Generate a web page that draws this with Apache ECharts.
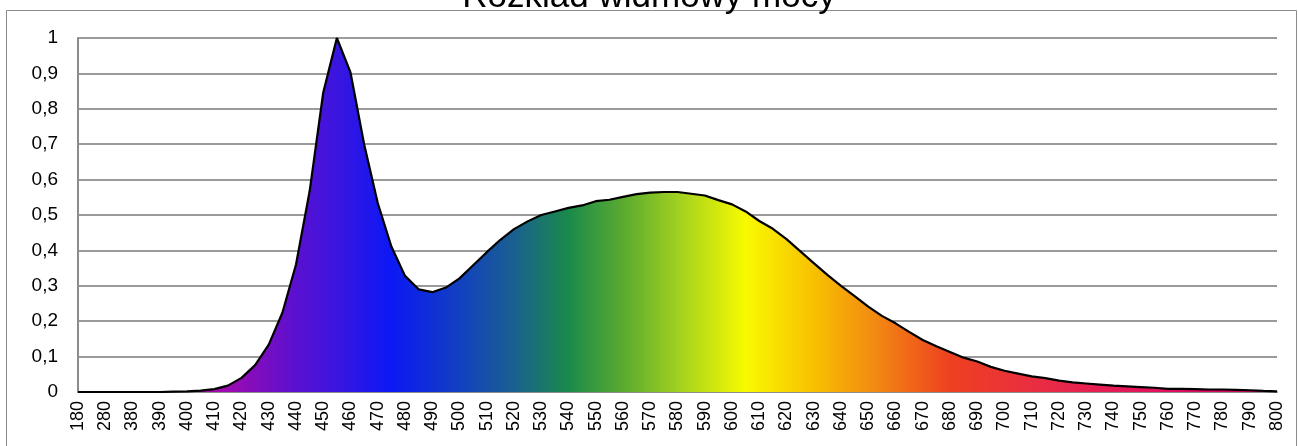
<!DOCTYPE html>
<html>
<head>
<meta charset="utf-8">
<script src="https://cdn.jsdelivr.net/npm/echarts@6/dist/echarts.min.js"></script>
<style>
  html, body { margin: 0; padding: 0; background: #fff; }
  #chart { width: 1298px; height: 446px; }
</style>
</head>
<body>
<div id="chart"></div>
<script>
// długości fal [nm]
const wavelengths = [180, 230, 280, 330,
  380, 385, 390, 395, 400, 405, 410, 415, 420, 425, 430, 435, 440, 445, 450, 455,
  460, 465, 470, 475, 480, 485, 490, 495, 500, 505, 510, 515, 520, 525, 530, 535,
  540, 545, 550, 555, 560, 565, 570, 575, 580, 585, 590, 595, 600, 605, 610, 615,
  620, 625, 630, 635, 640, 645, 650, 655, 660, 665, 670, 675, 680, 685, 690, 695,
  700, 705, 710, 715, 720, 725, 730, 735, 740, 745, 750, 755, 760, 765, 770, 775,
  780, 785, 790, 795, 800]

// moc względna
const power = [0, 0, 0, 0,
  0, 0, 0, 0.001, 0.002, 0.004, 0.008, 0.018, 0.04, 0.076, 0.134, 0.224, 0.36, 0.567, 0.846, 1.0,
  0.903, 0.70, 0.534, 0.411, 0.328, 0.29, 0.282, 0.295, 0.321, 0.358, 0.395, 0.43, 0.46, 0.482, 0.50, 0.51,
  0.52, 0.527, 0.539, 0.543, 0.551, 0.559, 0.563, 0.565, 0.565, 0.56, 0.555, 0.542, 0.53, 0.51, 0.483, 0.461,
  0.432, 0.398, 0.364, 0.331, 0.30, 0.271, 0.241, 0.215, 0.194, 0.17, 0.147, 0.129, 0.113, 0.097, 0.086, 0.071,
  0.06, 0.052, 0.044, 0.039, 0.032, 0.027, 0.024, 0.021, 0.018, 0.016, 0.014, 0.012, 0.009, 0.009, 0.008, 0.007,
  0.007, 0.006, 0.005, 0.003, 0.002]

// kolory widma (długość fali -> kolor)
const spectrumNm = [400, 415, 440, 455, 475, 500, 520, 540, 560, 580, 605, 630, 650, 680, 720, 760, 800]
const spectrumColors = ['#b000a0', '#9b0bb0', '#5a10d0', '#3a15e0', '#0c18f5', '#1240c0', '#1a6090', '#1a8a4a',
  '#5aaa30', '#a0d020', '#f8fa00', '#f8c000', '#f39010', '#ee4020', '#e8284a', '#e01060', '#d00060']

const chart = echarts.init(document.getElementById('chart'))

// gradient liczony po indeksach kategorii
const lastIdx = wavelengths.length - 1
const stops = spectrumNm.map(function (nm, k) {
  let idx = wavelengths.indexOf(nm)
  return { offset: idx / lastIdx, color: spectrumColors[k] }
})

const font = 'Liberation Sans'

const option = {
  animation: false,
  backgroundColor: '#fff',
  title: {
    text: 'Rozkład widmowy mocy',
    left: 'center',
    top: -25,
    textStyle: { fontFamily: font, fontSize: 35, fontWeight: 'normal', color: '#000' }
  },
  graphic: [{
    type: 'rect',
    shape: { x: 6.5, y: 10.5, width: 1290, height: 450 },
    style: { fill: null, stroke: '#8c8c8c', lineWidth: 1 },
    silent: true,
    z: -1
  }],
  grid: { left: 78, right: 21, top: 38, bottom: 54 },
  xAxis: {
    type: 'category',
    boundaryGap: false,
    data: wavelengths,
    axisLine: { lineStyle: { color: '#8c8c8c', width: 2 } },
    axisTick: { show: false },
    axisLabel: {
      interval: 1,
      rotate: 90,
      margin: 9,
      fontFamily: font,
      fontSize: 18,
      color: '#000'
    },
    splitLine: { show: false }
  },
  yAxis: {
    type: 'value',
    min: 0,
    max: 1,
    interval: 0.1,
    axisLine: { show: true, lineStyle: { color: '#8c8c8c', width: 2 } },
    axisTick: { show: false },
    axisLabel: {
      margin: 20,
      fontFamily: font,
      fontSize: 19,
      color: '#000',
      formatter: function (v) { return String(Math.round(v * 10) / 10).replace('.', ',') }
    },
    splitLine: { lineStyle: { color: '#9a9a9a', width: 2 } }
  },
  series: [{
    type: 'line',
    data: power,
    symbol: 'none',
    smooth: false,
    lineStyle: { color: '#000', width: 2.2 },
    areaStyle: {
      opacity: 1,
      color: new echarts.graphic.LinearGradient(0, 0, 1, 0, stops)
    },
    z: 3
  }]
}

chart.setOption(option)
</script>
</body>
</html>
